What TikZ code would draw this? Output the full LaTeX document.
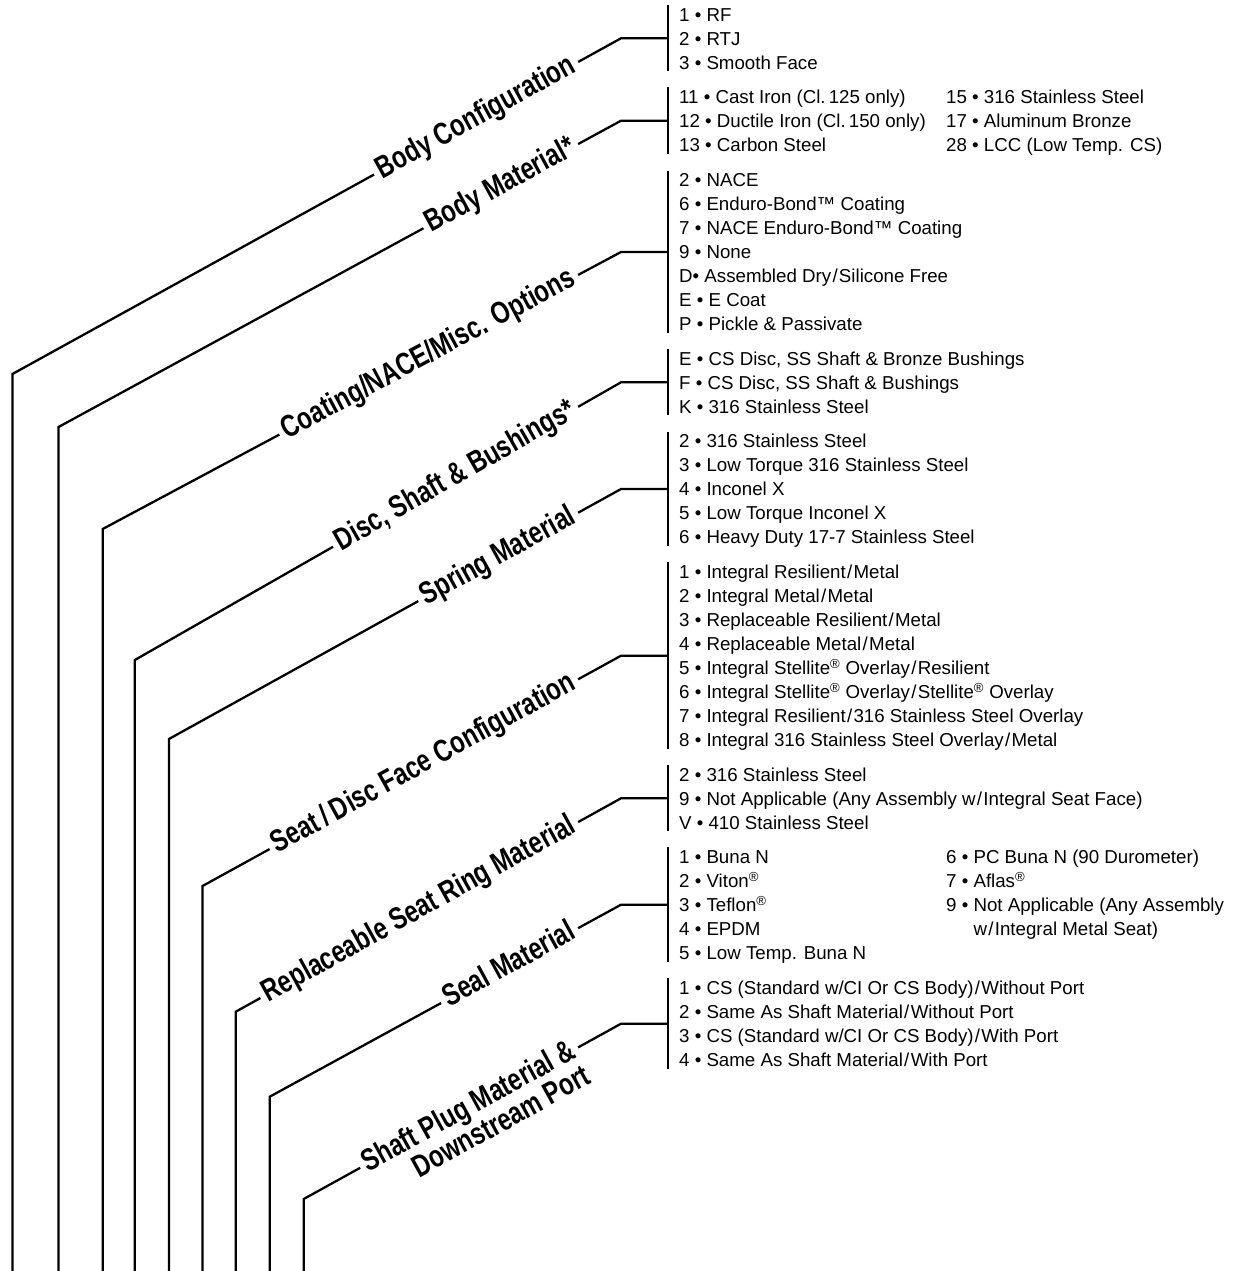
\documentclass[tikz,border=0pt]{standalone}
\usepackage{fontspec}
\setmainfont{Liberation Sans}
\newfontfamily\lblfont[FakeStretch=0.77]{Liberation Sans}
\newcommand\slh{\kern1.3bp/\kern1.3bp}
\newcommand\rmk{\textsuperscript{®}}
\tikzset{
  conn/.style={line width=2.3bp, line cap=butt, line join=miter},
  barline/.style={line width=2.7bp},
  item/.style={anchor=base west, inner sep=0pt, font=\fontsize{18.7bp}{24bp}\selectfont},
  lbl/.style={font=\lblfont\bfseries\fontsize{31bp}{32bp}\selectfont, fill=white,
     inner xsep=5bp, inner ysep=1bp, text height=22.5bp, text depth=6.5bp, sloped, anchor=east},
}
\begin{document}
\begin{tikzpicture}[x=1bp,y=-1bp]
\useasboundingbox[fill=white] (0,0) rectangle (1233,1271);

% ---------- connector geometry ----------
\coordinate (b1) at (12.4,1271);  \coordinate (k1) at (12.4,374);   \coordinate (c1) at (621,38.3);   \coordinate (m1) at (668,38.3);
\coordinate (b2) at (58.5,1271);  \coordinate (k2) at (58.5,427);   \coordinate (c2) at (621,120.7);  \coordinate (m2) at (668,120.7);
\coordinate (b3) at (102.7,1271); \coordinate (k3) at (102.7,529);  \coordinate (c3) at (621,252);    \coordinate (m3) at (668,252);
\coordinate (b4) at (134.8,1271); \coordinate (k4) at (134.8,660);  \coordinate (c4) at (621,382.3);  \coordinate (m4) at (668,382.3);
\coordinate (b5) at (168.9,1271); \coordinate (k5) at (168.9,739);  \coordinate (c5) at (621,489);    \coordinate (m5) at (668,489);
\coordinate (b6) at (202.5,1271); \coordinate (k6) at (202.5,886);  \coordinate (c6) at (621,655.7);  \coordinate (m6) at (668,655.7);
\coordinate (b7) at (235.7,1271); \coordinate (k7) at (235.7,1011.7); \coordinate (c7) at (621,798.3); \coordinate (m7) at (668,798.3);
\coordinate (b8) at (269.7,1271); \coordinate (k8) at (269.7,1096.7); \coordinate (c8) at (621,904.7); \coordinate (m8) at (668,904.7);
\coordinate (b9) at (303.7,1271); \coordinate (k9) at (303.7,1199);   \coordinate (c9) at (621,1023.7); \coordinate (m9) at (668,1023.7);

\draw[conn] (b1) -- (k1) -- node[lbl, pos={(579-12.4)/(621-12.4)}] (t1) {Body Configuration} (c1) -- (m1);
\draw[conn] (b2) -- (k2) -- node[lbl, pos={(579-58.5)/(621-58.5)}] (t2) {Body Material*} (c2) -- (m2);
\draw[conn] (b3) -- (k3) -- node[lbl, pos={(579-102.7)/(621-102.7)}] (t3) {Coating/NACE/Misc. Options} (c3) -- (m3);
\draw[conn] (b4) -- (k4) -- node[lbl, pos={(579-134.8)/(621-134.8)}] (t4) {Disc, Shaft \& Bushings*} (c4) -- (m4);
\draw[conn] (b5) -- (k5) -- node[lbl, pos={(579-168.9)/(621-168.9)}] (t5) {Spring Material} (c5) -- (m5);
\draw[conn] (b6) -- (k6) -- node[lbl, pos={(579-202.5)/(621-202.5)}] (t6) {Seat\,/\,Disc Face Configuration} (c6) -- (m6);
\draw[conn] (b7) -- (k7) -- node[lbl, pos={(579-235.7)/(621-235.7)}] (t7) {Replaceable Seat Ring Material} (c7) -- (m7);
\draw[conn] (b8) -- (k8) -- node[lbl, pos={(579-269.7)/(621-269.7)}] (t8) {Seal Material} (c8) -- (m8);
\draw[conn] (b9) -- (k9) -- node[lbl, pos={(579-303.7)/(621-303.7)}] (t9) {Shaft Plug Material \&} (c9) -- (m9);
\node[lbl, sloped=false, rotate=28.95, anchor=north east, inner ysep=0pt, text height=21bp] (t9b) at (t9.south east) {Downstream Port};

% ---------- bars ----------
\draw[barline] (668,4.8) coordinate (u1) -- (668,71.3) coordinate (d1);
\draw[barline] (668,87.2) coordinate (u2) -- (668,154) coordinate (d2);
\draw[barline] (668,170.5) coordinate (u3) -- (668,333) coordinate (d3);
\draw[barline] (668,348.8) coordinate (u4) -- (668,415) coordinate (d4);
\draw[barline] (668,431.5) coordinate (u5) -- (668,546) coordinate (d5);
\draw[barline] (668,562.2) coordinate (u6) -- (668,749) coordinate (d6);
\draw[barline] (668,764.8) coordinate (u7) -- (668,831) coordinate (d7);
\draw[barline] (668,847.2) coordinate (u8) -- (668,962) coordinate (d8);
\draw[barline] (668,978.2) coordinate (u9) -- (668,1069) coordinate (d9);

% ---------- option texts ----------
\foreach \t [count=\i] in {{1 • RF},{2 • RTJ},{3 • Smooth Face}}
  \node[item] (ga\i) at (679,{21+24*(\i-1)}) {\t};
\foreach \t [count=\i] in {{11 • Cast Iron (Cl.\,125 only)},{12 • Ductile Iron (Cl.\,150 only)},{13 • Carbon Steel}}
  \node[item] (gb\i) at (679,{103.4+24*(\i-1)}) {\t};
\foreach \t [count=\i] in {{15 • 316 Stainless Steel},{17 • Aluminum Bronze},{28 • LCC (Low Temp. CS)}}
  \node[item] (gbb\i) at (946,{103.4+24*(\i-1)}) {\t};
\foreach \t [count=\i] in {{2 • NACE},{6 • Enduro-Bond™ Coating},{7 • NACE Enduro-Bond™ Coating},{9 • None},{D• Assembled Dry\slh Silicone Free},{E • E Coat},{P • Pickle \& Passivate}}
  \node[item] (gc\i) at (679,{186.7+24*(\i-1)}) {\t};
\foreach \t [count=\i] in {{E • CS Disc, SS Shaft \& Bronze Bushings},{F • CS Disc, SS Shaft \& Bushings},{K • 316 Stainless Steel}}
  \node[item] (gd\i) at (679,{365+24*(\i-1)}) {\t};
\foreach \t [count=\i] in {{2 • 316 Stainless Steel},{3 • Low Torque 316 Stainless Steel},{4 • Inconel X},{5 • Low Torque Inconel X},{6 • Heavy Duty 17-7 Stainless Steel}}
  \node[item] (ge\i) at (679,{447.7+24*(\i-1)}) {\t};
\foreach \t [count=\i] in {{1 • Integral Resilient\slh Metal},{2 • Integral Metal\slh Metal},{3 • Replaceable Resilient\slh Metal},{4 • Replaceable Metal\slh Metal},{5 • Integral Stellite\rmk{} Overlay\slh Resilient},{6 • Integral Stellite\rmk{} Overlay\slh Stellite\rmk{} Overlay},{7 • Integral Resilient\slh 316 Stainless Steel Overlay},{8 • Integral 316 Stainless Steel Overlay\slh Metal}}
  \node[item] (gf\i) at (679,{578.4+24*(\i-1)}) {\t};
\foreach \t [count=\i] in {{2 • 316 Stainless Steel},{9 • Not Applicable (Any Assembly w\slh Integral Seat Face)},{V • 410 Stainless Steel}}
  \node[item] (gg\i) at (679,{781+24*(\i-1)}) {\t};
\foreach \t [count=\i] in {{1 • Buna N},{2 • Viton\rmk},{3 • Teflon\rmk},{4 • EPDM},{5 • Low Temp. Buna N}}
  \node[item] (gh\i) at (679,{863.4+24*(\i-1)}) {\t};
\foreach \t [count=\i] in {{6 • PC Buna N (90 Durometer)},{7 • Aflas\rmk},{9 • Not Applicable (Any Assembly},{\phantom{9 • }w\slh Integral Metal Seat)}}
  \node[item] (ghh\i) at (946,{863.4+24*(\i-1)}) {\t};
\foreach \t [count=\i] in {{1 • CS (Standard w/CI Or CS Body)\slh Without Port},{2 • Same As Shaft Material\slh Without Port},{3 • CS (Standard w/CI Or CS Body)\slh With Port},{4 • Same As Shaft Material\slh With Port}}
  \node[item] (gi\i) at (679,{994.4+24*(\i-1)}) {\t};
\end{tikzpicture}
\end{document}
